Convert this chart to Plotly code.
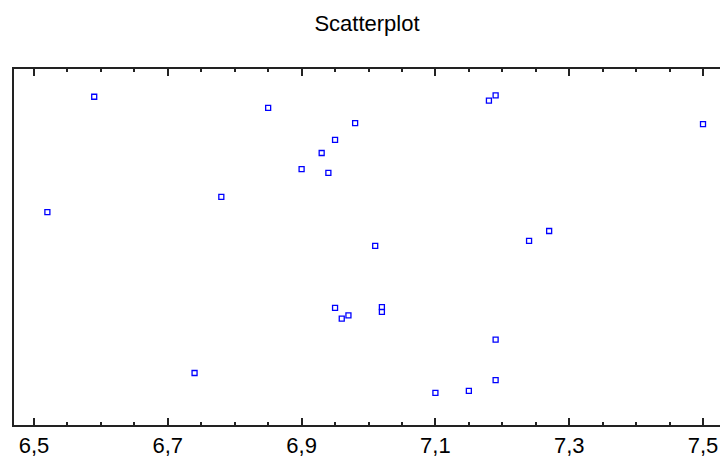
import plotly.graph_objects as go

x_values = [6.59, 6.85, 6.98, 6.95, 6.93, 6.90, 6.94, 6.78, 6.52, 7.19, 7.18, 7.50,
            7.01, 7.24, 7.27, 6.95, 6.96, 6.97, 7.02, 7.02, 7.19, 6.74, 7.19, 7.15, 7.10]
y_values = [92.2, 89.1, 84.8, 80.1, 76.4, 71.9, 70.8, 64.1, 59.8, 92.6, 91.1, 84.5,
            50.3, 51.7, 54.5, 32.9, 29.9, 30.8, 33.1, 31.8, 24.0, 14.6, 12.6, 9.6, 9.0]
x_tick_values = [6.5, 6.7, 6.9, 7.1, 7.3, 7.5]
x_tick_labels = ["6,5", "6,7", "6,9", "7,1", "7,3", "7,5"]

fig = go.Figure(go.Scatter(
    x=x_values, y=y_values, mode="markers",
    marker=dict(symbol="square-open", size=5, color="#0000FF",
                line=dict(width=1.3, color="#0000FF")),
    hoverinfo="x+y", showlegend=False,
))

fig.update_layout(
    width=720, height=459,
    margin=dict(l=14, r=0, t=69, b=34, autoexpand=False),
    paper_bgcolor="white", plot_bgcolor="white",
    font=dict(family="Liberation Sans, Arial, sans-serif", color="black"),
    title=dict(text="Scatterplot", x=0.5, xref="paper", y=1 - 23 / 459,
               yref="container", yanchor="middle", xanchor="center",
               font=dict(size=22, color="black")),
    xaxis=dict(
        range=[6.4701, 7.5254], showgrid=False, zeroline=False, automargin=False,
        showline=True, linecolor="#222", linewidth=2, mirror="ticks",
        tickmode="array", tickvals=x_tick_values, ticktext=x_tick_labels,
        ticks="inside", ticklen=7, tickwidth=2, tickcolor="#222",
        tickfont=dict(size=22, color="black"), ticklabelstandoff=0,
        minor=dict(dtick=0.05, tick0=6.5, ticks="inside", ticklen=3,
                   tickwidth=1.5, tickcolor="#222", showgrid=False),
    ),
    yaxis=dict(
        range=[0, 100], showgrid=False, zeroline=False, automargin=False,
        showline=True, linecolor="#222", linewidth=2, mirror=False,
        ticks="", showticklabels=False,
    ),
)

fig.write_html("out.html")
